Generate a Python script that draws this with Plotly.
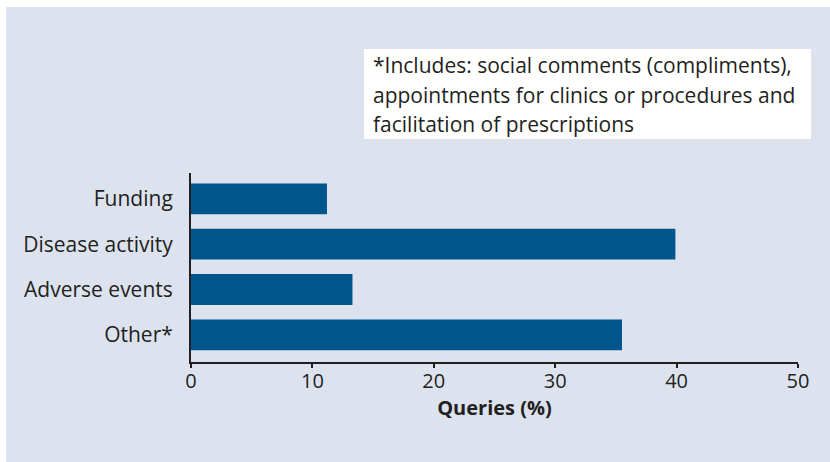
import plotly.graph_objects as go

categories = ["Funding", "Disease activity", "Adverse events", "Other*"]
values = [11.2, 39.9, 13.3, 35.5]
x_ticks = [0, 10, 20, 30, 40, 50]
note_lines = [
    "*Includes: social comments (compliments),",
    "appointments for clinics or procedures and",
    "facilitation of prescriptions",
]

W, H = 830, 462
L, R, T, B = 191, 798, 173, 362
PW, PH = R - L, B - T

def px(x):
    return (x - L) / PW

def py(y):
    return (B - y) / PH

PANEL = "#dce3ef"
BAR = "#00558c"
INK = "#231f20"
FONT = "Open Sans"

fig = go.Figure()
fig.add_trace(go.Bar(
    y=categories, x=values, orientation="h",
    marker=dict(color=BAR, line=dict(width=0)),
    width=0.68,
    hoverinfo="skip",
))

shapes = [
    dict(type="rect", xref="paper", yref="paper",
         x0=px(6), x1=px(W + 20), y0=py(H + 20), y1=py(7),
         fillcolor=PANEL, line=dict(width=0), layer="below"),
    dict(type="rect", xref="paper", yref="paper",
         x0=px(364), x1=px(811), y0=py(139), y1=py(49),
         fillcolor="white", line=dict(width=0), layer="below"),
]

annotations = []
for line, yc in zip(note_lines, [65, 95, 124]):
    annotations.append(dict(
        text=line, xref="paper", yref="paper",
        x=px(371), y=py(yc), xanchor="left", yanchor="middle",
        showarrow=False, align="left",
        font=dict(family=FONT, size=21, color=INK),
    ))

fig.update_layout(
    width=W, height=H,
    margin=dict(l=L, r=W - R, t=T, b=H - B, pad=0),
    paper_bgcolor="white",
    plot_bgcolor="rgba(0,0,0,0)",
    showlegend=False,
    shapes=shapes,
    annotations=annotations,
    font=dict(family=FONT, size=20, color=INK),
    xaxis=dict(
        range=[0, 50], tickvals=x_ticks, ticktext=[str(v) for v in x_ticks],
        showgrid=False, zeroline=False,
        showline=True, linecolor=INK, linewidth=2,
        ticks="outside", ticklen=4, tickwidth=2, tickcolor=INK,
        ticklabelstandoff=-4,
        tickfont=dict(family=FONT, size=20, color=INK),
        title=dict(text="<b>Queries (%)</b>", standoff=8,
                   font=dict(family=FONT, size=20, color=INK)),
        fixedrange=True,
    ),
    yaxis=dict(
        categoryorder="array", categoryarray=categories,
        range=[3.6, -0.57],
        showgrid=False, zeroline=False,
        showline=True, linecolor=INK, linewidth=2,
        ticks="", ticklabelstandoff=12,
        tickfont=dict(family=FONT, size=21, color=INK),
        fixedrange=True,
    ),
)

fig.write_html("out.html", config=dict(displayModeBar=False))
